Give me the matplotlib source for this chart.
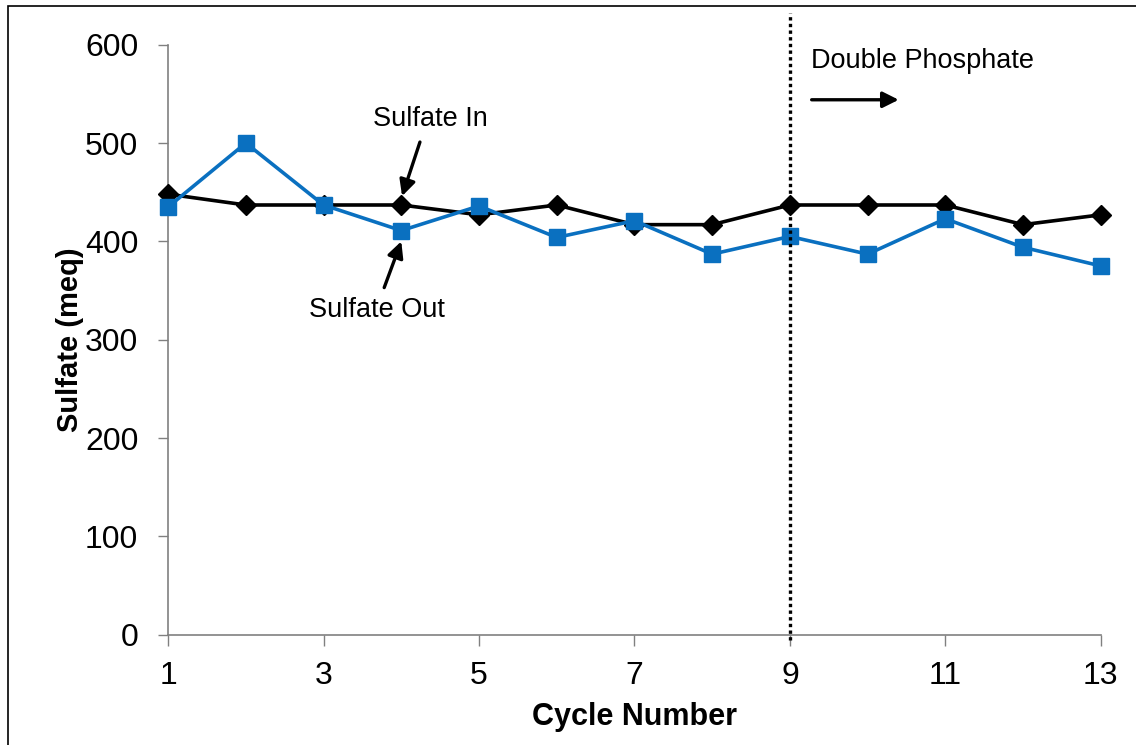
import matplotlib.pyplot as plt
from matplotlib.patches import Rectangle

plt.rcParams['font.family'] = ['Liberation Sans', 'DejaVu Sans']

cycles = [1, 2, 3, 4, 5, 6, 7, 8, 9, 10, 11, 12, 13]
sulfate_in = [448, 437, 437, 437, 427, 437, 417, 417, 437, 437, 437, 417, 427]
sulfate_out = [435, 500, 437, 411, 436, 404, 421, 387, 405, 387, 423, 394, 375]
xticks = [1, 3, 5, 7, 9, 11, 13]
yticks = [0, 100, 200, 300, 400, 500, 600]

fig = plt.figure(figsize=(11.36, 7.45), dpi=100)
ax = fig.add_axes([0.148, 0.148, 0.821, 0.792])

# frame around the whole picture
fig.patches.append(Rectangle((0.007, -0.01), 1.0, 1.002, transform=fig.transFigure,
                             fill=False, edgecolor='black', linewidth=1.2))

ax.plot(cycles, sulfate_in, color='black', linewidth=2.6, marker='D',
        markersize=10, zorder=3, clip_on=False)
ax.plot(cycles, sulfate_out, color='#0A70C0', linewidth=2.6, marker='s',
        markersize=11, zorder=4, clip_on=False)

# double phosphate start
ax.plot([9, 9], [-5, 632], color='black', linestyle=(0, (1, 1)), linewidth=2.4,
        clip_on=False, zorder=5)

ax.set_xlim(1, 13)
ax.set_ylim(0, 600)
ax.set_xticks(xticks)
ax.set_yticks(yticks)
ax.tick_params(labelsize=23, color='#808080', width=1)
ax.tick_params(axis='x', length=8, pad=11)
ax.tick_params(axis='y', length=7.5, pad=14)
for s in ['top', 'right']:
    ax.spines[s].set_visible(False)
for s in ['left', 'bottom']:
    ax.spines[s].set_color('#808080')
    ax.spines[s].set_linewidth(1.2)

ax.set_xlabel('Cycle Number', fontsize=22, fontweight='bold', labelpad=8)
ax.set_ylabel('Sulfate (meq)', fontsize=21, fontweight='bold', labelpad=1)

arrow = dict(arrowstyle='-|>', color='black', linewidth=2.4, mutation_scale=24,
             shrinkA=0, shrinkB=0)
ax.text(4.37, 524, 'Sulfate In', fontsize=19.5, ha='center', va='center')
ax.annotate('', xy=(4.01, 446), xytext=(4.24, 501), arrowprops=arrow)
ax.text(3.69, 330, 'Sulfate Out', fontsize=19.5, ha='center', va='center')
ax.annotate('', xy=(4.0, 400), xytext=(3.78, 353), arrowprops=arrow)
ax.text(9.27, 583, 'Double Phosphate', fontsize=19.5, ha='left', va='center')
ax.annotate('', xy=(10.4, 544), xytext=(9.28, 544), arrowprops=arrow)

fig.savefig('out.png', dpi=100)
